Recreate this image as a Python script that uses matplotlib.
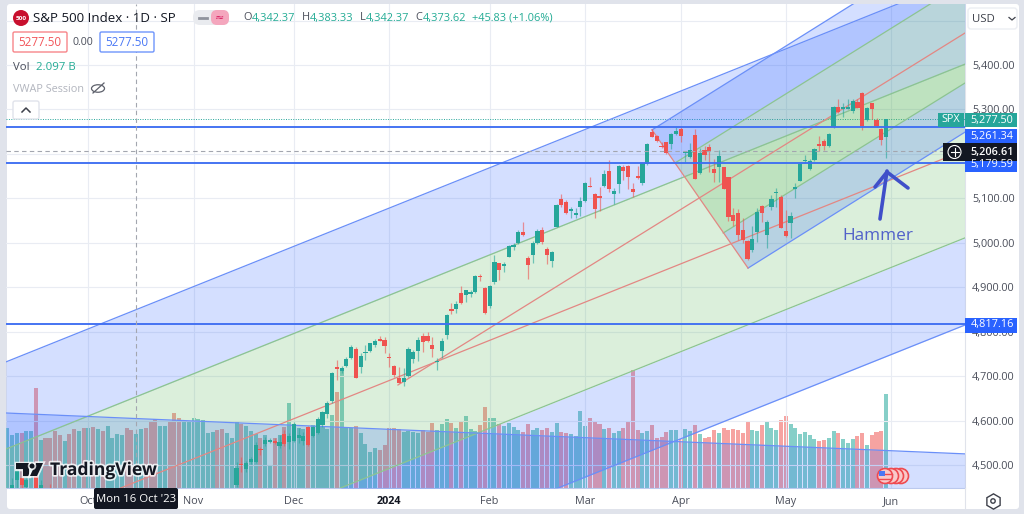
import matplotlib
matplotlib.use('Agg')
import matplotlib.pyplot as plt
from matplotlib.patches import FancyBboxPatch, Rectangle, Circle, Ellipse, Polygon
import matplotlib.patheffects as pe
import numpy as np

plt.rcParams['font.family'] = ['Open Sans', 'DejaVu Sans']

# volume bars, one per session, oldest first (arbitrary units)
volumes = [60, 53, 55, 55, 57, 57, 100, 48, 50, 50, 57, 53, 47, 54, 59, 57, 60, 60, 61, 59,
           57, 62, 50, 54, 53, 60, 58, 54, 59, 60, 67, 69, 62, 62, 67, 75, 70, 67, 67, 70,
           69, 68, 55, 56, 58, 59, 55, 50, 67, 64, 62, 57, 54, 50, 53, 23, 50, 53, 61, 85,
           64, 60, 59, 61, 63, 68, 62, 59, 73, 96, 118, 60, 60, 62, 55, 44, 36, 40, 38, 43,
           60, 60, 59, 56, 57, 56, 55, 58, 56, 65, 58, 64, 69, 65, 60, 66, 72, 59, 57, 63,
           81, 70, 70, 64, 62, 65, 61, 58, 56, 64, 58, 60, 58, 60, 56, 65, 56, 55, 54, 52,
           77, 62, 70, 66, 64, 59, 60, 55, 57, 60, 66, 118, 58, 55, 57, 63, 50, 51, 56, 58,
           58, 49, 59, 57, 63, 54, 50, 51, 58, 55, 60, 58, 59, 58, 55, 67, 58, 57, 63, 67,
           60, 58, 68, 72, 64, 60, 54, 56, 53, 49, 47, 48, 50, 57, 55, 49, 45, 49, 52, 55,
           43, 53, 56, 57, 94]
# bar direction, ten sessions per block
volume_dirs = list('gggrggrgrr' 'rrgrrgrgrg' 'rggggrrggr' 'rrggrrrggg' 'ggggrrgggr'
                   'gggrggrgrg' 'gggrgggggr' 'gggrggggrr' 'rrrggggrrr' 'gggrgrgggr'
                   'rggrggggrr' 'ggrrggrrgg' 'ggrrrgrggr' 'rrrggrrrrg' 'grggrgrrrg'
                   'rrrrrrggrg' 'ggrrgggggg' 'rrggrgggrr' 'grrrg')

# the few candles that poke above the bottom edge on the far left
early_idx = [1, 2, 3, 4, 6, 7, 9]
early_open = [4440, 4466, 4471, 4450, 4475, 4440, 4447]
early_high = [4470, 4493, 4474, 4477, 4480, 4466, 4458]
early_low = [4430, 4440, 4440, 4440, 4430, 4430, 4430]
early_close = [4455, 4487, 4455, 4466, 4440, 4455, 4435]

# daily candles from session 48 to the last one
first_candle = 48
opens = [4455, 4501, 4492, 4506, 4507, 4535, 4547, 4552, 4555, 4543, 4570, 4551, 4555, 4560, 4554, 4585,
         4565, 4573, 4590, 4614, 4643, 4720, 4712, 4723, 4740, 4762, 4721, 4751, 4756, 4769, 4783, 4781,
         4743, 4723, 4695, 4687, 4700, 4738, 4756, 4791, 4790, 4770, 4732, 4756, 4793, 4851, 4852, 4886,
         4882, 4885, 4890, 4925, 4898, 4858, 4912, 4954, 4948, 4969, 4991, 5000, 5024, 4966, 4972, 4999,
         5029, 4986, 4960, 5036, 5098, 5091, 5071, 5063, 5081, 5094, 5128, 5110, 5106, 5128, 5162, 5109,
         5132, 5170, 5173, 5121, 5151, 5134, 5177, 5250, 5241, 5218, 5226, 5222, 5245, 5255, 5202, 5192,
         5242, 5156, 5209, 5215, 5166, 5170, 5170, 5147, 5063, 5066, 5029, 5004, 4984, 5025, 5083, 5017,
         5080, 5111, 5102, 5027, 5045, 5120, 5140, 5183, 5165, 5186, 5222, 5229, 5218, 5260, 5306, 5301,
         5302, 5296, 5317, 5338, 5276, 5314, 5276, 5255, 5239]
closes = [4493, 4499, 4505, 4513, 4545, 4533, 4556, 4556, 4550, 4552, 4547, 4566, 4592, 4567, 4565, 4545,
          4585, 4603, 4620, 4640, 4706, 4717, 4719, 4738, 4766, 4695, 4745, 4754, 4774, 4779, 4780, 4768,
          4741, 4702, 4685, 4695, 4762, 4754, 4781, 4777, 4780, 4762, 4735, 4780, 4838, 4846, 4862, 4865,
          4893, 4889, 4926, 4923, 4841, 4903, 4956, 4939, 4952, 4993, 4996, 5025, 5018, 4950, 4999, 5027,
          5002, 4973, 4980, 5085, 5085, 5066, 5076, 5068, 5095, 5135, 5126, 5075, 5101, 5155, 5120, 5116,
          5173, 5162, 5147, 5114, 5145, 5179, 5222, 5239, 5230, 5216, 5201, 5245, 5252, 5240, 5204, 5209,
          5144, 5203, 5197, 5206, 5156, 5196, 5121, 5059, 5048, 5017, 5006, 4964, 5008, 5070, 5068, 5047,
          5098, 5115, 5033, 5015, 5060, 5125, 5177, 5186, 5185, 5211, 5218, 5218, 5244, 5306, 5294, 5305,
          5305, 5320, 5304, 5263, 5303, 5301, 5263, 5231, 5277.5]
highs = [4507, 4519, 4509, 4517, 4552, 4541, 4564, 4560, 4560, 4567, 4579, 4572, 4597, 4583, 4575, 4588,
         4588, 4607, 4622, 4644, 4710, 4736, 4723, 4742, 4769, 4766, 4751, 4770, 4775, 4783, 4791, 4787,
         4753, 4725, 4721, 4718, 4765, 4759, 4789, 4796, 4800, 4789, 4740, 4786, 4839, 4865, 4870, 4903,
         4894, 4894, 4927, 4930, 4900, 4905, 4973, 4955, 4957, 4995, 4999, 5029, 5047, 4970, 5003, 5030,
         5035, 4990, 4982, 5087, 5109, 5096, 5080, 5078, 5104, 5137, 5147, 5113, 5126, 5164, 5186, 5123,
         5175, 5175, 5175, 5135, 5173, 5180, 5224, 5255, 5242, 5227, 5227, 5248, 5261, 5261, 5205, 5225,
         5255, 5213, 5218, 5222, 5188, 5209, 5171, 5148, 5078, 5075, 5056, 5006, 5038, 5078, 5085, 5051,
         5108, 5123, 5108, 5074, 5070, 5135, 5179, 5197, 5188, 5213, 5240, 5234, 5248, 5308, 5323, 5314,
         5323, 5323, 5323, 5339, 5306, 5315, 5280, 5258, 5278]
lows = [4451, 4485, 4485, 4502, 4504, 4522, 4543, 4549, 4547, 4538, 4543, 4536, 4552, 4550, 4545, 4543,
        4562, 4570, 4585, 4605, 4640, 4691, 4707, 4720, 4738, 4695, 4706, 4736, 4754, 4765, 4779, 4751,
        4721, 4699, 4685, 4678, 4699, 4730, 4734, 4754, 4777, 4744, 4714, 4741, 4783, 4840, 4841, 4862,
        4867, 4879, 4886, 4915, 4840, 4853, 4907, 4916, 4935, 4967, 4984, 4997, 5015, 4918, 4954, 4997,
        4997, 4952, 4945, 5035, 5080, 5065, 5055, 5055, 5060, 5092, 5126, 5055, 5072, 5125, 5115, 5087,
        5111, 5141, 5120, 5102, 5143, 5130, 5175, 5238, 5227, 5213, 5199, 5211, 5242, 5227, 5182, 5190,
        5144, 5155, 5186, 5160, 5136, 5137, 5120, 5050, 5038, 5006, 4999, 4961, 4980, 5002, 5047, 4989,
        5074, 5081, 5033, 5014, 5010, 5100, 5138, 5179, 5164, 5185, 5207, 5209, 5216, 5258, 5291, 5282,
        5300, 5293, 5303, 5254, 5275, 5278, 5261, 5220, 5190]

# horizontal levels and crosshair
levels = [5261.34, 5179.59, 4817.16]
last_price = 5277.50
cross_price = 5206.61
cross_idx = 27

# drawn channel across the whole chart, [left edge, right edge]
edge_x = [-0.27, 200.53]
chan_top = [4732, 5598]
chan_upper = [4536, 5402]
chan_mid = [4345, 5208.5]
chan_lower = [4147, 5011]
chan_bottom = [3951, 4815]

# pitchfork, handle points then values at the right edge
fork_pivot = (81.8, 4680)
fork_x = [135, 139.8, 145, 149.9, 155.1]
fork_start = [5254, 5179.5, 5098.5, 5022, 4943]
fork_end = [5695, 5586, 5472, 5359.5, 5249]

# flat channel along the volume bars
flat_line = [4617, 4525]

month_idx = [17, 39, 60, 80, 101, 121, 141, 163, 185]
month_labels = ['Oct', 'Nov', 'Dec', '2024', 'Feb', 'Mar', 'Apr', 'May', 'Jun']
price_ticks = [4500, 4600, 4700, 4800, 4900, 5000, 5100, 5200, 5300, 5400, 5500]
hidden_price_labels = [5200, 5500]  # covered by the tags in the original

GREEN = '#26a69a'
RED = '#ef5350'
BLUE_LINE = '#6a8ff8'
GREEN_LINE = '#8cc491'
RED_LINE = '#e38783'
LEVEL_BLUE = '#3f6ff2'
BLUE_FILL = (0.16, 0.38, 1.0, 0.2)
GREEN_FILL = (0.30, 0.69, 0.31, 0.2)
TEXT = '#4a4e5a'
PANEL_X = 965

fig = plt.figure(figsize=(10.24, 5.14), dpi=100, facecolor='#e0e3eb')

# white panel behind everything, pixel coordinates
bg = fig.add_axes([0, 0, 1, 1], zorder=0)
bg.set_xlim(0, 1024)
bg.set_ylim(514, 0)
bg.axis('off')
bg.add_patch(FancyBboxPatch((7, 4), 1012, 505, boxstyle='round,pad=0,rounding_size=3', fc='white', ec='none'))

pos = [6 / 1024, (514 - 488) / 514, (PANEL_X - 6) / 1024, 484 / 514]

# volume sits under the price axes
ax_vol = fig.add_axes(pos, zorder=1)
ax_vol.patch.set_alpha(0)
ax_vol.set_xlim(edge_x)
ax_vol.set_ylim(0, 484)
ax_vol.axis('off')
vol_x = np.arange(len(volumes))
vol_colors = ['#86cfc8' if d == 'g' else '#f6a3a1' for d in volume_dirs]
ax_vol.bar(vol_x, volumes, width=0.84, color=vol_colors, linewidth=0)

ax = fig.add_axes(pos, zorder=2)
ax.patch.set_alpha(0)
ax.set_xlim(edge_x)
ax.set_ylim(5400 - (488 - 65) * 2.25, 5400 - (4 - 65) * 2.25)

# candles
idx_all = early_idx + list(range(first_candle, first_candle + len(opens)))
o_all = early_open + opens
h_all = early_high + highs
l_all = early_low + lows
c_all = early_close + closes
for i, o, h, l, c in zip(idx_all, o_all, h_all, l_all, c_all):
    col = GREEN if c >= o else RED
    ax.vlines(i, l, h, color=col, lw=0.9, alpha=0.6, zorder=6)
    ax.bar(i, max(abs(c - o), 2.4), bottom=min(o, c), width=0.88, color=col, linewidth=0, zorder=6)

# big channel fills
ax.fill_between(edge_x, chan_upper, chan_top, color=BLUE_FILL, lw=0, zorder=4)
ax.fill_between(edge_x, chan_lower, chan_upper, color=GREEN_FILL, lw=0, zorder=4)
ax.fill_between(edge_x, chan_bottom, chan_lower, color=BLUE_FILL, lw=0, zorder=4)
for vals, col in [(chan_top, BLUE_LINE), (chan_upper, GREEN_LINE), (chan_mid, RED_LINE),
                  (chan_lower, GREEN_LINE), (chan_bottom, BLUE_LINE)]:
    ax.plot(edge_x, vals, color=col, lw=0.9, zorder=5)

# pitchfork fills and lines
right = edge_x[1]
ax.fill([fork_x[0], fork_x[1], right, right], [fork_start[0], fork_start[1], fork_end[1], fork_end[0]],
        color=BLUE_FILL, lw=0, zorder=4)
ax.fill([fork_x[1], fork_x[3], right, right], [fork_start[1], fork_start[3], fork_end[3], fork_end[1]],
        color=GREEN_FILL, lw=0, zorder=4)
ax.fill([fork_x[3], fork_x[4], right, right], [fork_start[3], fork_start[4], fork_end[4], fork_end[3]],
        color=BLUE_FILL, lw=0, zorder=4)
for k, col in zip([0, 1, 3, 4], [BLUE_LINE, GREEN_LINE, GREEN_LINE, BLUE_LINE]):
    ax.plot([fork_x[k], right], [fork_start[k], fork_end[k]], color=col, lw=0.9, zorder=5)
ax.plot([fork_pivot[0], right], [fork_pivot[1], fork_end[2]], color=RED_LINE, lw=0.9, zorder=5)
ax.plot([fork_x[0], fork_x[4]], [fork_start[0], fork_start[4]], color=RED_LINE, lw=0.9, zorder=5)

# flat channel at the bottom
ax.fill_between(edge_x, 4300, flat_line, color=BLUE_FILL, lw=0, zorder=4)
ax.plot(edge_x, flat_line, color=BLUE_LINE, lw=0.9, zorder=5)

# levels and crosshair
for lv in levels:
    ax.axhline(lv, color=LEVEL_BLUE, lw=1.35, zorder=7)
ax.axhline(last_price, color=GREEN, lw=0.7, ls=(0, (1, 1.5)), zorder=2)
ax.axhline(cross_price, color='#a3a6af', lw=0.8, ls=(0, (4, 3)), zorder=7)
ax.axvline(cross_idx, color='#a3a6af', lw=0.8, ls=(0, (4, 3)), zorder=7)

# axes
ax.set_xticks(month_idx, month_labels)
ax.set_yticks(price_ticks, ['' if p in hidden_price_labels else f'{p:,.2f}' for p in price_ticks])
ax.yaxis.tick_right()
ax.tick_params(axis='both', length=0, labelsize=7.8, labelcolor=TEXT)
ax.tick_params(axis='x', pad=6)
ax.tick_params(axis='y', pad=5)
for lab in ax.get_xticklabels():
    if lab.get_text() == '2024':
        lab.set_fontweight('bold')
        lab.set_color('#131722')
ax.grid(True, color='#e9ecf3', lw=0.8, zorder=1)
ax.set_axisbelow(True)
for side in ['top', 'left']:
    ax.spines[side].set_visible(False)
for side in ['right', 'bottom']:
    ax.spines[side].set_color('#e0e3eb')
    ax.spines[side].set_linewidth(0.8)

# interface pieces on top, pixel coordinates
ui = fig.add_axes([0, 0, 1, 1], zorder=10)
ui.patch.set_alpha(0)
ui.set_xlim(0, 1024)
ui.set_ylim(514, 0)
ui.axis('off')


def box(x0, y0, x1, y1, fc, ec='none', lw=1.0, r=1.5):
    ui.add_patch(FancyBboxPatch((x0, y0), x1 - x0, y1 - y0, boxstyle=f'round,pad=0,rounding_size={r}',
                                fc=fc, ec=ec, lw=lw))


def label(x, y, s, color=TEXT, size=7.8, ha='left', **kw):
    ui.text(x, y, s, color=color, fontsize=size, ha=ha, va='center', **kw)


ui.plot([PANEL_X, PANEL_X], [488, 509], color='#e0e3eb', lw=0.8)

# header
ui.add_patch(Circle((21, 18), 8, fc='#c8102e', ec='none'))
label(21, 18, '500', color='white', size=4.6, ha='center', fontweight='bold')
label(33, 18, 'S&P 500 Index · 1D · SP', color='#131722', size=9.6)
box(193, 10, 229, 25, '#e9ebef', r=7)
box(211, 10, 229, 25, '#f4a6bd', r=6)
ui.plot([199, 207], [17.5, 17.5], color='#8f939d', lw=2)
label(220, 17.5, '≈', color='#d81b60', size=8, ha='center', family='DejaVu Sans')
header_parts = [(243, 'O', TEXT), (252, '4,342.37', '#22ab94'), (302, 'H', TEXT), (310, '4,383.33', '#22ab94'),
                (360, 'L', TEXT), (366, '4,342.37', '#22ab94'), (415, 'C', TEXT), (423, '4,373.62', '#22ab94'),
                (472, '+45.83 (+1.06%)', '#22ab94')]
for hx, s, col in header_parts:
    label(hx, 18, s, color=col, size=7.9)
box(13, 32, 67, 52, 'white', ec='#f7858a')
label(40, 42.5, '5277.50', color='#f2555a', size=8.4, ha='center')
label(83, 42.5, '0.00', size=7.6, ha='center')
box(100, 32, 154, 52, 'white', ec='#6f95fb')
label(127, 42.5, '5277.50', color='#4a78f5', size=8.4, ha='center')
label(13, 68, 'Vol', size=8.2)
label(36, 68, '2.097 B', color='#22ab94', size=8.2)
label(13, 89, 'VWAP Session', color='#b2b5be', size=7.8)
ui.add_patch(Ellipse((98, 88.5), 13, 7.5, fc='none', ec='#5d606b', lw=0.9))
ui.plot([93, 104], [93, 83], color='#5d606b', lw=0.9)
box(13, 101, 39, 119, 'white', ec='#e0e3eb', r=2)
ui.plot([22, 26, 30], [112, 108, 112], color='#3d404a', lw=1.1)

# price axis tags
box(968, 8, 1017, 29, 'white', ec='#eceef3', r=3)
label(972, 19, 'USD', color='#3d404a', size=8.2)
ui.plot([1009, 1012, 1015], [17.5, 20, 17.5], color='#3d404a', lw=0.9)
ui.add_patch(Rectangle((938, 113), 26, 14, fc=GREEN, ec='none'))
label(951, 120, 'SPX', color='white', size=7.8, ha='center')
ui.add_patch(Rectangle((965, 113), 52, 14, fc=GREEN, ec='none'))
label(992, 120, f'{last_price:,.2f}', color='white', size=7.8, ha='center')
for y_tag, val in [(136, levels[0]), (164.5, levels[1]), (325, levels[2])]:
    ui.add_patch(Rectangle((965, y_tag - 7.5), 52, 15, fc='#2962ff', ec='none'))
    label(992, y_tag, f'{val:,.2f}', color='white', size=7.8, ha='center')
ui.add_patch(Rectangle((943, 143), 74, 18, fc='#131722', ec='none'))
ui.add_patch(Circle((954.5, 152), 6.5, fc='none', ec='white', lw=0.8))
ui.plot([950.5, 958.5], [152, 152], color='white', lw=0.8)
ui.plot([954.5, 954.5], [148, 156], color='white', lw=0.8)
label(992, 152, f'{cross_price:,.2f}', color='white', size=7.8, ha='center', fontweight='semibold')

# crosshair date tag
box(94, 488, 178, 509, '#131722', r=2)
label(136, 499, "Mon 16 Oct '23", color='white', size=8.2, ha='center')

# settings icon
ui.plot([993], [501], marker='h', ms=11, mfc='none', mec='#3d404a', mew=1.0)
ui.add_patch(Circle((993, 501), 2.2, fc='none', ec='#3d404a', lw=1.0))

# earnings flags at the last bar
for fx in [901, 896, 891, 885]:
    ui.add_patch(Circle((fx, 476), 7.5, fc='#f9c9c9', ec='#ef4a50', lw=1.2))
ui.add_patch(Rectangle((879, 471), 6, 5, fc='#4a78f5', ec='none'))
ui.plot([885, 892], [474, 474], color='#ef4a50', lw=1)
ui.plot([879, 891], [479, 479], color='#ef4a50', lw=1)

# logo
halo = [pe.withStroke(linewidth=2.5, foreground='white', alpha=0.8)]
logo_parts = [Polygon([(16, 463), (29, 463), (29, 476), (23, 476), (23, 469), (16, 469)], fc='#131722', ec='none'),
              Polygon([(36, 463), (43, 463), (37, 476), (30, 476)], fc='#131722', ec='none'),
              Circle((32, 466), 2.5, fc='#131722', ec='none')]
for part in logo_parts:
    part.set_path_effects(halo)
    ui.add_patch(part)
ui.text(50, 470, 'TradingView', color='#131722', fontsize=12.6, fontweight='bold', va='center',
        path_effects=halo)

# hand drawn arrow and note
arrow_col = '#3f4fc9'
ui.plot([880, 887], [219, 171], color=arrow_col, lw=2.6, solid_capstyle='round')
ui.plot([875, 887, 908], [187, 172, 188], color=arrow_col, lw=2.6, solid_capstyle='round', solid_joinstyle='round')
label(878, 236, 'Hammer', color='#5161c9', size=12.4, ha='center')

print(len(volumes), len(volume_dirs), len(opens), len(closes), len(highs), len(lows))
fig.savefig('out.png', dpi=100, facecolor=fig.get_facecolor())
